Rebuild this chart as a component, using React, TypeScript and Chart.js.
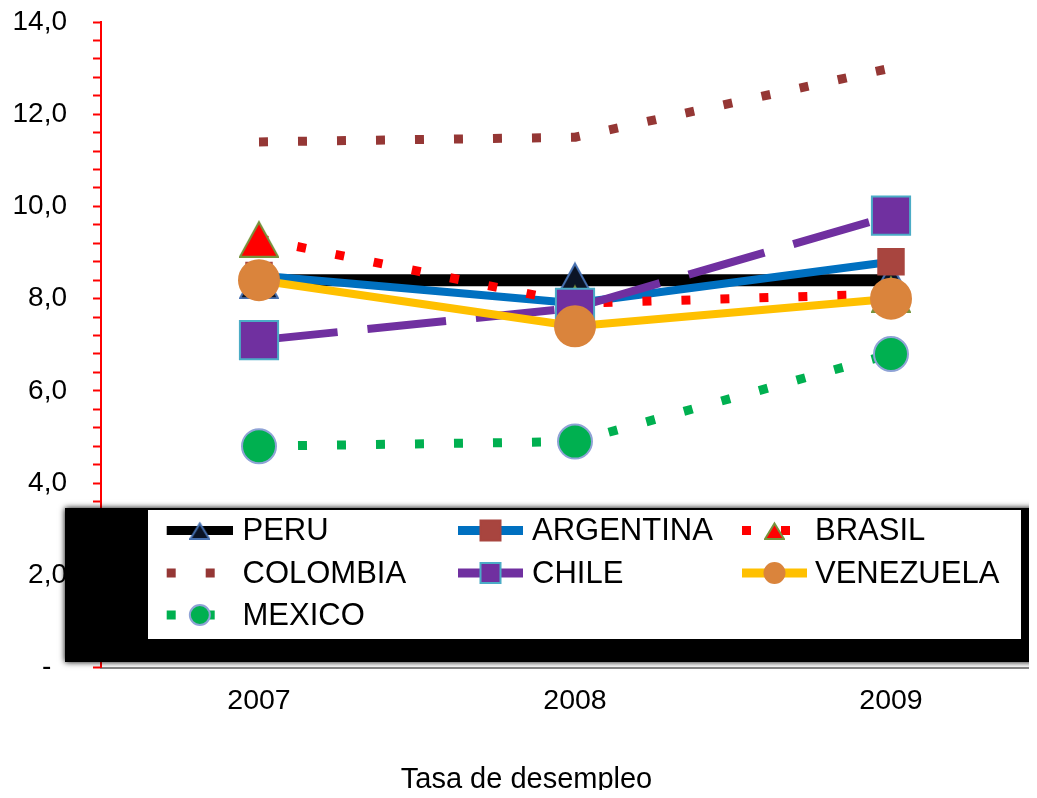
import React, { useEffect, useRef } from 'react';
import { Chart, registerables } from 'chart.js';

Chart.register(...registerables);

// ---------- data ----------
const years = ['2007', '2008', '2009'];
const seriesNames = ['PERU', 'ARGENTINA', 'BRASIL', 'COLOMBIA', 'CHILE', 'VENEZUELA', 'MEXICO'];
const peru = [8.4, 8.4, 8.4];
const argentina = [8.5, 7.9, 8.8];
const brasil = [9.3, 7.9, 8.1];
const colombia = [11.4, 11.5, 13.0];
const chile = [7.1, 7.8, 9.8];
const venezuela = [8.4, 7.4, 8.0];
const mexico = [4.8, 4.9, 6.8];
const seriesValues = [peru, argentina, brasil, colombia, chile, venezuela, mexico];

const yMin = 0;
const yMax = 14;
const yMajorStep = 2;
const yMinorStep = 0.4;
const zeroLabel = '-  ';
const chartTitle = 'Tasa de desempleo';

// ---------- styles ----------
const FONT = '"Liberation Sans", Arial, sans-serif';

type MarkerKind = 'triangle' | 'rect' | 'circle' | 'none';
interface SeriesStyle {
  line: string;
  width: number;
  dash: number[];
  marker: MarkerKind;
  fill: string;
  stroke: string;
  size: number;
}

const styles: SeriesStyle[] = [
  { line: '#000000', width: 12, dash: [], marker: 'triangle', fill: '#0b1426', stroke: '#4670b0', size: 40 },
  { line: '#0070C0', width: 8, dash: [], marker: 'rect', fill: '#A8453F', stroke: '#A8453F', size: 18 },
  { line: '#FF0000', width: 9, dash: [9, 30], marker: 'triangle', fill: '#FF0000', stroke: '#77933C', size: 40 },
  { line: '#953735', width: 9, dash: [9, 30], marker: 'none', fill: '#953735', stroke: '#953735', size: 0 },
  { line: '#7030A0', width: 8, dash: [79, 30], marker: 'rect', fill: '#7030A0', stroke: '#4BACC6', size: 27 },
  { line: '#FFC000', width: 8, dash: [], marker: 'circle', fill: '#DA843C', stroke: '#DA843C', size: 20 },
  { line: '#00B050', width: 9, dash: [9, 30], marker: 'circle', fill: '#00B050', stroke: '#8FA3D6', size: 17 },
];

function triangleImage(w: number, h: number, fill: string, stroke: string, lw: number) {
  const c = document.createElement('canvas');
  c.width = w;
  c.height = h;
  const ctx = c.getContext('2d')!;
  ctx.beginPath();
  ctx.moveTo(w / 2, lw * 1.2);
  ctx.lineTo(w - lw / 2, h - lw / 2);
  ctx.lineTo(lw / 2, h - lw / 2);
  ctx.closePath();
  ctx.fillStyle = fill;
  ctx.fill();
  ctx.lineWidth = lw;
  ctx.strokeStyle = stroke;
  ctx.lineJoin = 'miter';
  ctx.stroke();
  return c;
}

function buildYTicks() {
  const out: { value: number }[] = [];
  const n = Math.round((yMax - yMin) / yMinorStep);
  for (let k = 0; k <= n; k++) {
    out.push({ value: Math.round((yMin + k * yMinorStep) * 1000) / 1000 });
  }
  return out;
}

// legend layout (positions only)
const legendCols = [
  { x0: 158.7, x1: 225, tx: 234.5 },
  { x0: 450, x1: 515, tx: 524 },
  { x0: 734, x1: 799, tx: 807 },
];
const legendRows = [522.5, 565, 607];

function makeLegendPlugin(smallTriangles: (HTMLCanvasElement | null)[]) {
  return {
    id: 'boxLegend',
    afterDraw(chart: any) {
      const ctx = chart.ctx as CanvasRenderingContext2D;
      ctx.save();
      ctx.shadowColor = '#000000';
      ctx.shadowBlur = 6;
      ctx.fillStyle = '#000000';
      ctx.fillRect(57, 500, 1000, 154);
      ctx.restore();

      ctx.save();
      ctx.fillStyle = '#ffffff';
      ctx.fillRect(140, 502, 873, 129);

      seriesNames.forEach((name, i) => {
        const st = styles[i];
        const col = legendCols[i % 3];
        const y = legendRows[Math.floor(i / 3)];
        ctx.save();
        ctx.beginPath();
        ctx.setLineDash(st.dash);
        ctx.lineDashOffset = 0;
        ctx.lineCap = 'butt';
        ctx.lineWidth = 9;
        ctx.strokeStyle = st.line;
        ctx.moveTo(col.x0, y);
        ctx.lineTo(col.x1, y);
        ctx.stroke();
        ctx.restore();
        const cx = (col.x0 + col.x1) / 2;
        if (st.marker === 'triangle' && smallTriangles[i]) {
          const img = smallTriangles[i]!;
          ctx.drawImage(img, cx - img.width / 2, y - img.height / 2);
        } else if (st.marker === 'rect') {
          ctx.fillStyle = st.fill;
          ctx.fillRect(cx - 10, y - 10, 20, 20);
          ctx.lineWidth = 2;
          ctx.strokeStyle = st.stroke;
          ctx.strokeRect(cx - 10, y - 10, 20, 20);
        } else if (st.marker === 'circle') {
          ctx.beginPath();
          ctx.arc(cx, y, 10, 0, Math.PI * 2);
          ctx.fillStyle = st.fill;
          ctx.fill();
          ctx.lineWidth = 2;
          ctx.strokeStyle = st.stroke;
          ctx.stroke();
        }
        ctx.fillStyle = '#000000';
        ctx.font = `31px ${FONT}`;
        ctx.textAlign = 'left';
        ctx.textBaseline = 'middle';
        ctx.fillText(name, col.tx, y + 1);
      });
      ctx.restore();
    },
  };
}

const titlePlugin = {
  id: 'pageTitle',
  afterDraw(chart: any) {
    const ctx = chart.ctx as CanvasRenderingContext2D;
    ctx.save();
    ctx.fillStyle = '#000000';
    ctx.font = `29px ${FONT}`;
    ctx.textAlign = 'center';
    ctx.textBaseline = 'middle';
    ctx.fillText(chartTitle, 518.5, 772);
    ctx.restore();
  },
};

function zeroPadding(scale: any) {
  scale.paddingTop = 0;
  scale.paddingBottom = 0;
  scale.paddingLeft = 0;
  scale.paddingRight = 0;
}

export default function App() {
  const ref = useRef<HTMLCanvasElement>(null);

  useEffect(() => {
    if (!ref.current) return;
    const bigTri = styles.map((s) =>
      s.marker === 'triangle' ? triangleImage(s.size, s.size - 2, s.fill, s.stroke, 2) : null
    );
    const smallTri = styles.map((s) =>
      s.marker === 'triangle' ? triangleImage(21, 19, s.fill, s.stroke, 2) : null
    );

    const datasets = seriesNames.map((name, i) => {
      const st = styles[i];
      const isTri = st.marker === 'triangle';
      return {
        label: name,
        data: seriesValues[i],
        borderColor: st.line,
        backgroundColor: st.line,
        borderWidth: st.width,
        borderDash: st.dash,
        borderCapStyle: 'butt' as const,
        borderJoinStyle: 'round' as const,
        fill: false,
        tension: 0,
        order: seriesNames.length - i,
        pointStyle: isTri ? bigTri[i] : st.marker === 'rect' ? 'rect' : 'circle',
        pointRadius: st.marker === 'none' ? 0 : isTri ? 20 : st.size,
        pointHoverRadius: st.marker === 'none' ? 0 : isTri ? 20 : st.size,
        pointBackgroundColor: st.fill,
        pointBorderColor: st.stroke,
        pointBorderWidth: 2,
      };
    });

    const chart = new Chart(ref.current, {
      type: 'line',
      data: { labels: years, datasets: datasets as any },
      plugins: [makeLegendPlugin(smallTri), titlePlugin],
      options: {
        animation: false,
        responsive: false,
        devicePixelRatio: 1,
        layout: { autoPadding: false, padding: { top: 14, right: 4, left: 0, bottom: 0 } },
        plugins: {
          legend: { display: false },
          tooltip: { enabled: false },
          title: { display: false },
        },
        scales: {
          x: {
            type: 'category',
            offset: true,
            grid: { display: true, drawOnChartArea: false, drawTicks: false },
            border: { display: true, color: '#868686', width: 2 },
            ticks: {
              color: '#000000',
              font: { family: FONT, size: 28.5 },
              padding: 17,
              maxRotation: 0,
              autoSkip: false,
            },
            afterFit: (scale: any) => {
              scale.height = 122.5;
              zeroPadding(scale);
            },
          },
          y: {
            type: 'linear',
            min: yMin,
            max: yMax,
            grid: {
              display: true,
              drawOnChartArea: false,
              drawTicks: true,
              tickLength: 8,
              tickColor: '#FF0000',
              tickWidth: 2,
              color: '#FF0000',
            },
            border: { display: true, color: '#FF0000', width: 2 },
            afterBuildTicks: (scale: any) => {
              scale.ticks = buildYTicks();
            },
            ticks: {
              autoSkip: false,
              color: '#000000',
              padding: 26,
              font: { family: FONT, size: 28, lineHeight: 1 },
              callback: (v: any) => {
                const val = Number(v);
                const r = val / yMajorStep;
                if (Math.abs(r - Math.round(r)) > 1e-6) return '';
                if (Math.abs(val) < 1e-9) return zeroLabel;
                return val.toFixed(1).replace('.', ',');
              },
            },
            afterFit: (scale: any) => {
              scale.width = 93;
              zeroPadding(scale);
            },
          },
        },
      },
    });
    return () => chart.destroy();
  }, []);

  return (
    <div style={{ width: 1029, height: 782, overflow: 'hidden' }}>
      <canvas ref={ref} width={1045} height={782} style={{ display: 'block' }} />
    </div>
  );
}
